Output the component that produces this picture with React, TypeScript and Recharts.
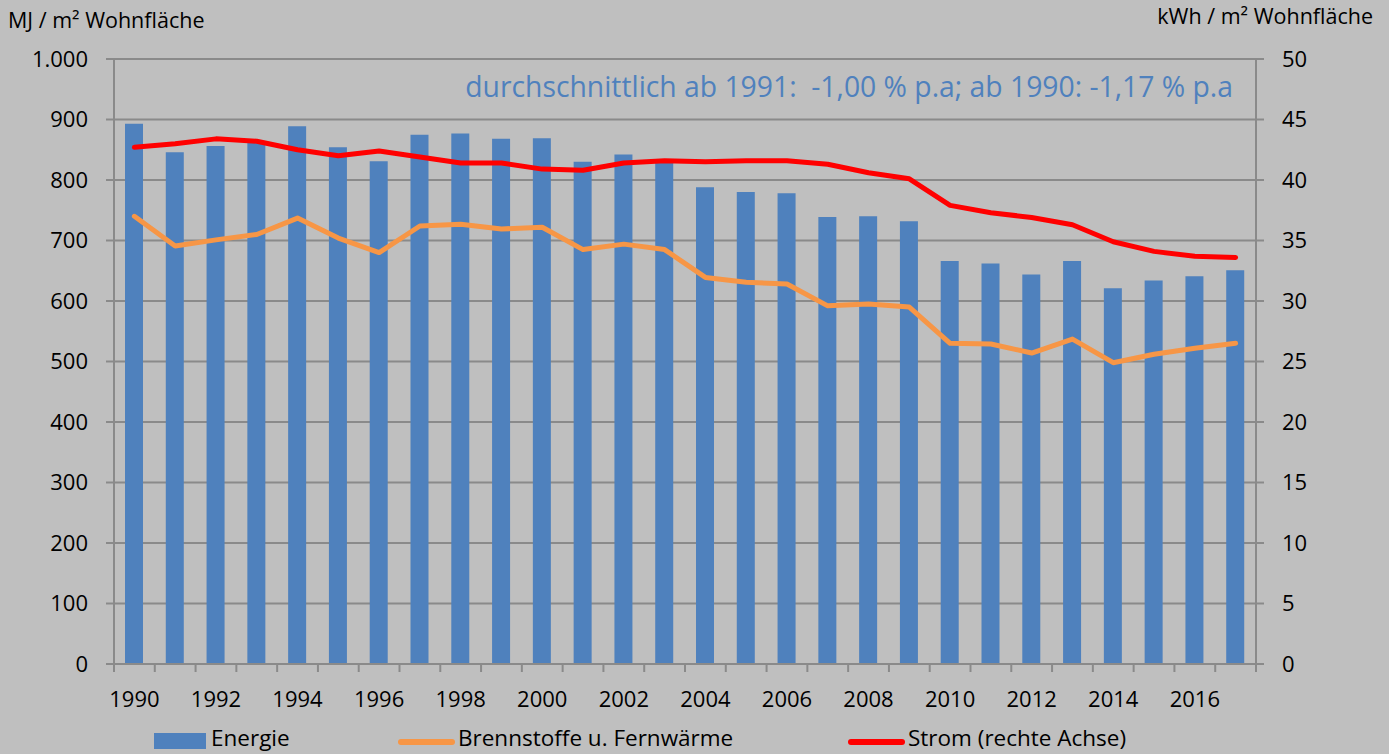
import React from 'react';
import {
  ComposedChart, Bar, Line, XAxis, YAxis, CartesianGrid,
} from 'recharts';

const years = [
  '1990', '1991', '1992', '1993', '1994', '1995', '1996', '1997', '1998', '1999',
  '2000', '2001', '2002', '2003', '2004', '2005', '2006', '2007', '2008', '2009',
  '2010', '2011', '2012', '2013', '2014', '2015', '2016', '2017',
];

// MJ / m² Wohnfläche
const energie = [
  893, 846, 856, 863, 889, 854, 831, 875, 877, 868,
  869, 830, 842, 830, 788, 780, 778, 739, 740, 732,
  666, 662, 644, 666, 621, 634, 641, 651,
];

// MJ / m² Wohnfläche
const brennstoffe = [
  740, 691, 701, 710, 737, 704, 680, 724, 727, 719,
  722, 685, 694, 685, 639, 631, 628, 592, 595, 590,
  530, 529, 514, 537, 498, 512, 522, 530,
];

// kWh / m² Wohnfläche (rechte Achse)
const strom = [
  42.7, 43.0, 43.4, 43.2, 42.5, 42.0, 42.4, 41.9, 41.4, 41.4,
  40.9, 40.8, 41.4, 41.6, 41.5, 41.6, 41.6, 41.3, 40.6, 40.1,
  37.9, 37.3, 36.9, 36.3, 34.9, 34.1, 33.7, 33.6,
];

const leftTicks = [0, 100, 200, 300, 400, 500, 600, 700, 800, 900, 1000];
const rightTicks = [0, 5, 10, 15, 20, 25, 30, 35, 40, 45, 50];

const data = years.map((year, i) => ({
  year,
  energie: energie[i],
  brennstoffe: brennstoffe[i],
  strom: strom[i],
}));

const W = 1389;
const H = 754;
const LEFT = 114;
const RIGHT = 133;
const TOP = 59;
const XH = 90;
const BAND = (W - LEFT - RIGHT) / years.length;

const FONT = '"Open Sans", sans-serif';
const GRID = '#8a8a8a';
const BLUE = '#4f81bd';
const ORANGE = '#f79646';
const RED = '#ff0000';

const YearTick = (props: any) => {
  const { x, y, payload, index } = props;
  const last = index === years.length - 1;
  return (
    <g>
      <line x1={x - BAND / 2} x2={x - BAND / 2} y1={y} y2={y + 8} stroke={GRID} strokeWidth={2} />
      {last && (
        <line x1={x + BAND / 2} x2={x + BAND / 2} y1={y} y2={y + 8} stroke={GRID} strokeWidth={2} />
      )}
      {index % 2 === 0 && (
        <text x={x} y={y + 34} textAnchor="middle" dominantBaseline="central"
          fontFamily={FONT} fontSize={22} fill="#000">
          {payload.value}
        </text>
      )}
    </g>
  );
};

const fmtLeft = (v: number) => (v >= 1000 ? v.toLocaleString('de-DE') : String(v));

const legendItems = [
  { label: 'Energie', color: BLUE, kind: 'rect', x: 154, tx: 211 },
  { label: 'Brennstoffe u. Fernwärme', color: ORANGE, kind: 'line', x: 398, tx: 458 },
  { label: 'Strom (rechte Achse)', color: RED, kind: 'line', x: 848, tx: 908 },
];

export default function App() {
  return (
    <div style={{ position: 'absolute', left: 0, top: 0, width: W, height: H, background: '#bfbfbf', overflow: 'hidden', fontFamily: FONT }}>
      <ComposedChart width={W} height={H} data={data}
        margin={{ top: TOP, right: 0, bottom: 0, left: 0 }}>
        <CartesianGrid vertical={false} stroke={GRID} strokeWidth={2} yAxisId="left" />
        <XAxis dataKey="year" interval={0} height={XH} tickLine={false} tickSize={0} tickMargin={0}
          axisLine={{ stroke: GRID, strokeWidth: 2 }} tick={<YearTick />} />
        <YAxis yAxisId="left" width={LEFT} domain={[0, 1000]} ticks={leftTicks}
          tickFormatter={fmtLeft} tickSize={8} tickMargin={18}
          axisLine={{ stroke: GRID, strokeWidth: 2 }} tickLine={{ stroke: GRID, strokeWidth: 2 }}
          tick={{ fontFamily: FONT, fontSize: 22, fill: '#000' }} />
        <YAxis yAxisId="right" orientation="right" width={RIGHT} domain={[0, 50]} ticks={rightTicks}
          tickSize={8} tickMargin={18}
          axisLine={{ stroke: GRID, strokeWidth: 2 }} tickLine={{ stroke: GRID, strokeWidth: 2 }}
          tick={{ fontFamily: FONT, fontSize: 22, fill: '#000', textAnchor: 'start' }} />
        <Bar yAxisId="left" dataKey="energie" fill={BLUE} barSize={18} isAnimationActive={false} />
        <Line yAxisId="left" type="linear" dataKey="brennstoffe" stroke={ORANGE} strokeWidth={5}
          dot={false} activeDot={false} strokeLinecap="round" strokeLinejoin="round" isAnimationActive={false} />
        <Line yAxisId="right" type="linear" dataKey="strom" stroke={RED} strokeWidth={5}
          dot={false} activeDot={false} strokeLinecap="round" strokeLinejoin="round" isAnimationActive={false} />
      </ComposedChart>

      <div style={{ position: 'absolute', left: 8, top: 5, fontSize: 21.5, color: '#000', whiteSpace: 'nowrap' }}>
        MJ / m² Wohnfläche
      </div>
      <div style={{ position: 'absolute', right: 16, top: 1, fontSize: 21.5, color: '#000', whiteSpace: 'nowrap' }}>
        kWh / m² Wohnfläche
      </div>
      <div style={{ position: 'absolute', right: W - 1233, top: 67, fontSize: 28.3, color: BLUE, whiteSpace: 'pre' }}>
        durchschnittlich ab 1991:  -1,00 % p.a; ab 1990: -1,17 % p.a
      </div>

      {legendItems.map((it) => (
        <React.Fragment key={it.label}>
          {it.kind === 'rect' ? (
            <div style={{ position: 'absolute', left: it.x, top: 733, width: 52, height: 16, background: it.color }} />
          ) : (
            <div style={{ position: 'absolute', left: it.x, top: 739, width: 57, height: 6, borderRadius: 3, background: it.color }} />
          )}
          <div style={{ position: 'absolute', left: it.tx, top: 723, fontSize: 22.5, lineHeight: '30px', color: '#000', whiteSpace: 'nowrap' }}>
            {it.label}
          </div>
        </React.Fragment>
      ))}
    </div>
  );
}
